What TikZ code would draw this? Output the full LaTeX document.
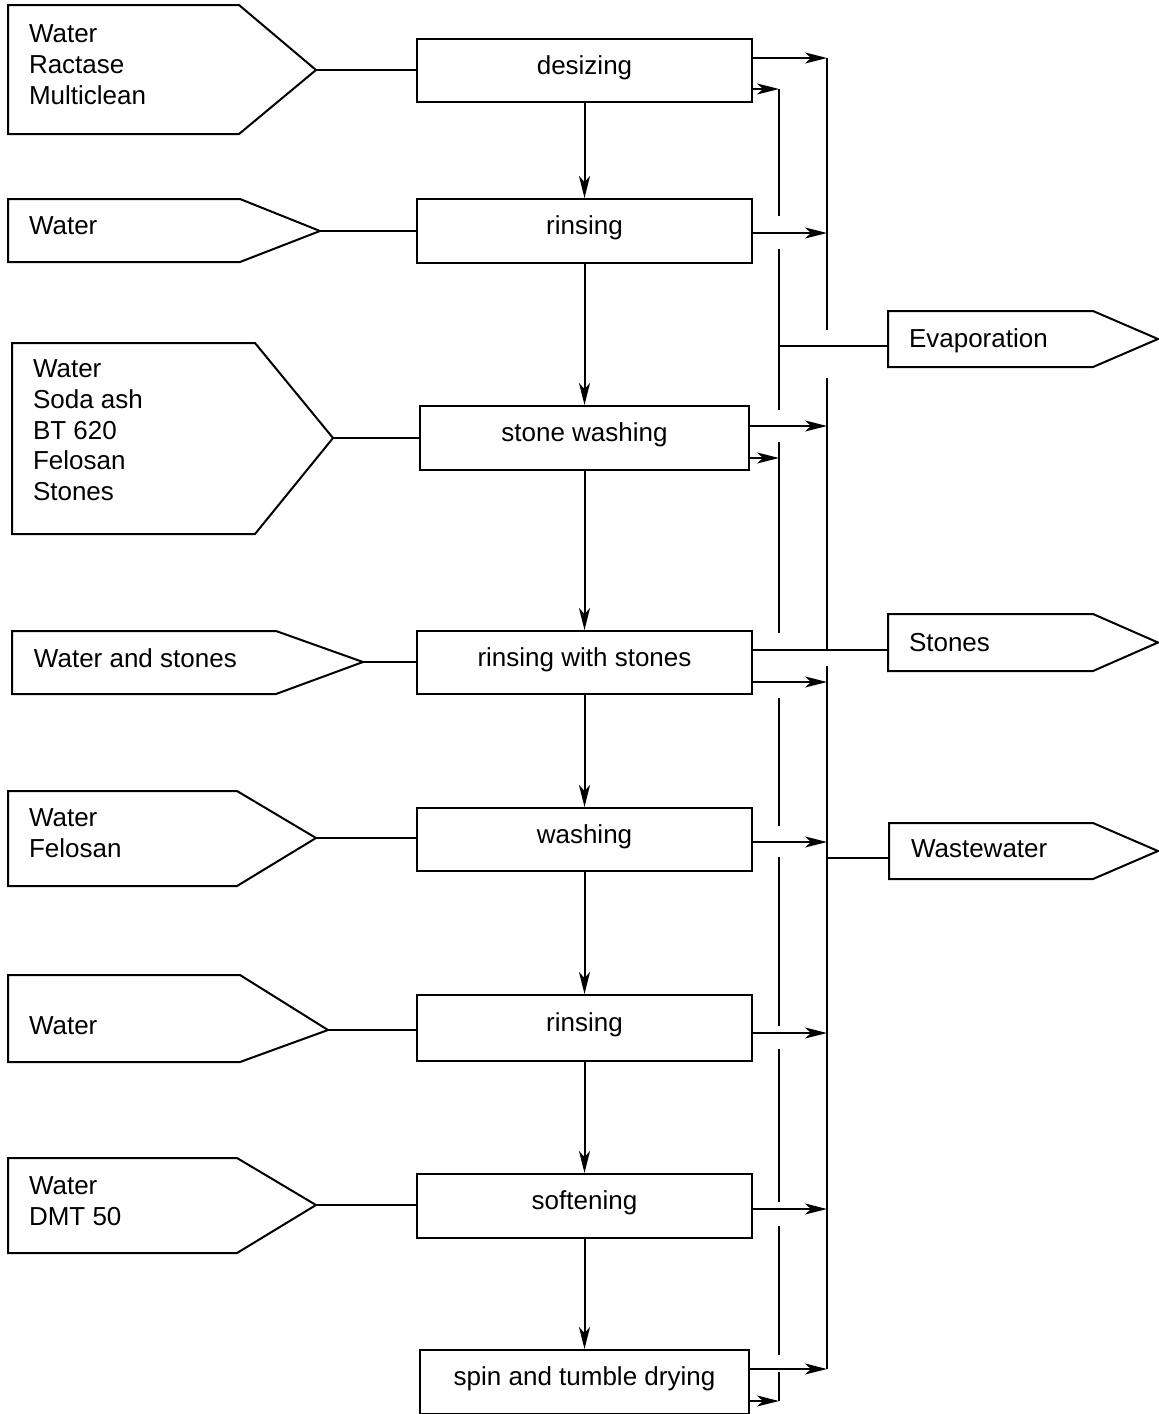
\documentclass[tikz,border=0pt]{standalone}
\usepackage{fontspec}
\setmainfont{Liberation Sans}
\usetikzlibrary{arrows.meta}

% feed shape: name, left x, top y, bottom y, x where the point starts, tip x, tip y
\newcommand\feedshape[7]{%
  \draw (#2,#3) -- (#5,#3) -- (#6,#7) -- (#5,#4) -- (#2,#4) -- cycle;
  \coordinate (#1) at (#6,#7);}
% output shape: name, left x, top y, bottom y, x where the point starts, tip x
\newcommand\outshape[6]{%
  \draw (#2,#3) -- (#5,#3) -- (#6,{(#3+#4)/2}) -- (#5,#4) -- (#2,#4) -- cycle;
  \coordinate (#1) at (#2,{(#3+#4)/2});}

\begin{document}
\begin{tikzpicture}[x=1pt,y=-1pt,
  line width=2pt, line join=miter,
  every node/.style={font=\fontsize{26}{30.7}\selectfont},
  proc/.style={draw, rectangle, inner sep=0pt, minimum height=63pt,
    text height=18.6pt, text depth=11.6pt},
  wide/.style={proc, minimum width=335pt},
  narrow/.style={proc, minimum width=329pt},
  label/.style={anchor=north west, align=left, inner sep=0pt},
  flow/.style={-{Stealth[length=22pt,width=11pt,inset=6pt]}},
]
\useasboundingbox (0,0) rectangle (1159,1414);

% process chain
\node[wide]   (desz)  at (584.5,70.5)  {desizing};
\node[wide, minimum height=64pt]   (rin1)  at (584.5,231)   {rinsing};
\node[narrow, minimum height=64pt] (stone) at (584.5,438)   {stone washing};
\node[wide]   (rws)   at (584.5,662.5) {rinsing with stones};
\node[wide]   (wash)  at (584.5,839.5) {washing};
\node[wide, minimum height=66pt]   (rin2)  at (584.5,1028)  {rinsing};
\node[wide, minimum height=64pt]   (soft)  at (584.5,1206)  {softening};
\node[narrow, minimum height=64pt] (spin)  at (584.5,1382)  {spin and tumble drying};

\draw[flow] (desz)  -- (rin1);
\draw[flow] (rin1)  -- (stone);
\draw[flow] (stone) -- (rws);
\draw[flow] (rws)   -- (wash);
\draw[flow] (wash)  -- (rin2);
\draw[flow] (rin2)  -- (soft);
\draw[flow] (soft)  -- (spin);

% inputs
\feedshape{f1}{8}{5}{134}{239}{316}{70}
\node[label] (t1) at (28,24) {Water\\Ractase\\Multiclean};
\feedshape{f2}{8}{199}{262}{240}{320}{231}
\node[label] (t2) at (28,216) {Water};
\feedshape{f3}{12}{343}{534}{255}{333}{438}
\node[label] (t3) at (32,359) {Water\\Soda ash\\BT 620\\Felosan\\Stones};
\feedshape{f4}{12}{631}{694}{276}{363}{662}
\node[label] (t4) at (33,648) {Water and stones};
\feedshape{f5}{8}{791}{886}{237}{316}{838}
\node[label] (t5) at (28,808) {Water\\Felosan};
\feedshape{f6}{8}{975}{1062}{240}{328}{1030}
\node[label] (t6) at (28,1016) {Water};
\feedshape{f7}{8}{1158}{1253}{237}{316}{1205}
\node[label] (t7) at (28,1176) {Water\\DMT 50};

\draw (f1) -- (f1 -| desz.west);
\draw (f2) -- (f2 -| rin1.west);
\draw (f3) -- (f3 -| stone.west);
\draw (f4) -- (f4 -| rws.west);
\draw (f5) -- (f5 -| wash.west);
\draw (f6) -- (f6 -| rin2.west);
\draw (f7) -- (f7 -| soft.west);

% outputs
\outshape{evap}{888}{311}{367}{1093}{1158}
\node[label] (tev) at (908,328) {Evaporation};
\outshape{stn}{888}{614}{671}{1093}{1158}
\node[label] (tst) at (908,632) {Stones};
\outshape{waste}{889}{823}{879}{1093}{1158}
\node[label] (twa) at (910,839) {Wastewater};

% collecting lines (outer x=827, inner x=779), broken where lines cross
\draw (827,58) -- (827,330);
\draw (827,378) -- (827,650);
\draw (827,666) -- (827,1369);
\draw (779,89) -- (779,216);
\draw (779,249) -- (779,410);
\draw (779,442) -- (779,633);
\draw (779,698) -- (779,826);
\draw (779,857) -- (779,1026);
\draw (779,1049) -- (779,1202);
\draw (779,1226) -- (779,1355);
\draw (779,1372) -- (779,1401);

% discharges into the collecting lines
\draw[flow] (desz.east |- 0,58)    -- (827,58);
\draw[flow] (desz.east |- 0,89)    -- (779,89);
\draw[flow] (rin1.east |- 0,233)   -- (827,233);
\draw[flow] (stone.east |- 0,426)  -- (827,426);
\draw[flow] (stone.east |- 0,458)  -- (779,458);
\draw[flow] (rws.east |- 0,682)    -- (827,682);
\draw[flow] (wash.east |- 0,842)   -- (827,842);
\draw[flow] (rin2.east |- 0,1033)  -- (827,1033);
\draw[flow] (soft.east |- 0,1209)  -- (827,1209);
\draw[flow] (spin.east |- 0,1369)  -- (827,1369);
\draw[flow] (spin.east |- 0,1401)  -- (779,1401);

% lines to the outputs
\draw (779,346) -- (evap |- 0,346);
\draw (rws.east |- 0,650) -- (stn |- 0,650);
\draw (827,858) -- (waste |- 0,858);
\end{tikzpicture}
\end{document}
